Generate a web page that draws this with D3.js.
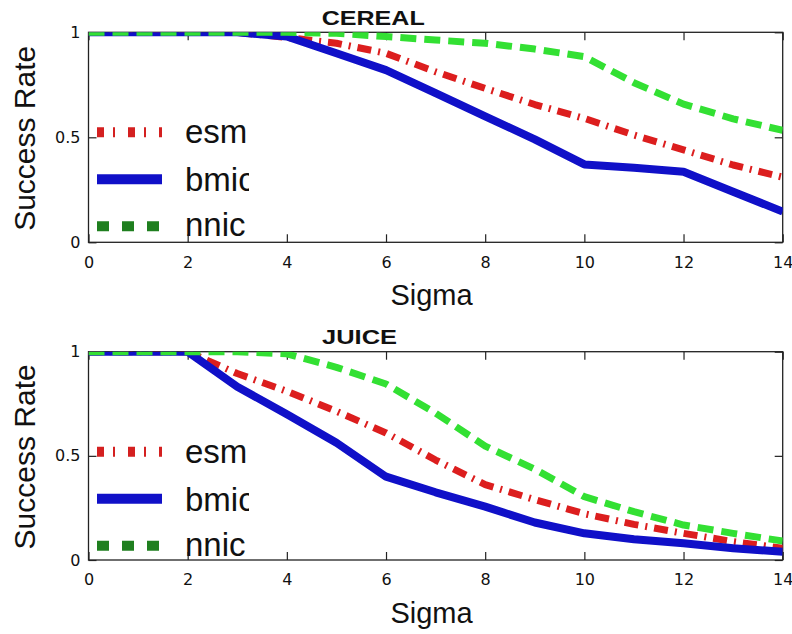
<!DOCTYPE html>
<html lang="en">
<head>
<meta charset="utf-8">
<title>Success rate vs sigma</title>
<script src="https://d3js.org/d3.v7.min.js"></script>
<style>
  body { margin: 0; background: #fff; }
  svg { display: block; }
  .tick line { stroke: #222; stroke-width: 1.2; }
  .lab { font-family: "Liberation Sans", Arial, sans-serif; fill: #111; }
</style>
</head>
<body>
<script>
// sigma values on the x axis
var sigma = [0, 1, 2, 3, 4, 5, 6, 7, 8, 9, 10, 11, 12, 13, 14];
var xTicks = [0, 2, 4, 6, 8, 10, 12, 14];
var yTicks = [0, 0.5, 1];
var seriesNames = ["esm", "bmic", "nnic"];

// CEREAL panel
var cerealEsm  = [1, 1, 1, 1, 0.975, 0.948, 0.90, 0.812, 0.733, 0.656, 0.59, 0.511, 0.44, 0.368, 0.31];
var cerealBmic = [1, 1, 1, 1, 0.98, 0.90, 0.82, 0.71, 0.60, 0.49, 0.371, 0.355, 0.336, 0.241, 0.146];
var cerealNnic = [1, 1, 1, 1, 1, 0.995, 0.98, 0.963, 0.948, 0.92, 0.884, 0.76, 0.658, 0.588, 0.533];

// JUICE panel
var juiceEsm  = [1, 1, 1, 0.895, 0.81, 0.714, 0.61, 0.48, 0.362, 0.29, 0.222, 0.171, 0.128, 0.088, 0.056];
var juiceBmic = [1, 1, 1, 0.832, 0.70, 0.563, 0.40, 0.325, 0.256, 0.18, 0.128, 0.10, 0.08, 0.056, 0.04];
var juiceNnic = [1, 1, 1, 1, 0.99, 0.925, 0.845, 0.705, 0.547, 0.436, 0.304, 0.232, 0.168, 0.128, 0.091];

var w = 792, h = 634;

var svg = d3.select("body").append("svg")
    .attr("width", w)
    .attr("height", h);

var styles = {
  esm:  { color: "#dc1e1e", legend: "#d42020", width: 7, dash: "14,7,2,7", legendDash: "7,9,2,13" },
  bmic: { color: "#1010c8", legend: "#1010c8", width: 8, dash: null, legendDash: null },
  nnic: { color: "#33e033", legend: "#1f7f1f", width: 7, dash: "16,8", legendDash: "12,13" }
};

function drawPanel(id, title, titleOpts, top, bottom, data) {
  var x = d3.scaleLinear().domain([0, 14]).range([88.5, 782.7]);
  var y = d3.scaleLinear().domain([0, 1]).range([bottom, top]);

  var g = svg.append("g");

  g.append("clipPath").attr("id", "clip" + id)
    .append("rect")
      .attr("x", x(0)).attr("y", y(1))
      .attr("width", x(14) - x(0)).attr("height", y(0) - y(1));

  // axes, ticks point inward
  var bottomAxis = d3.axisBottom(x).tickValues(xTicks).tickSize(-8).tickSizeOuter(0).tickPadding(14);
  var topAxis = d3.axisTop(x).tickValues(xTicks).tickSize(-8).tickSizeOuter(0).tickFormat("");
  var leftAxis = d3.axisLeft(y).tickValues(yTicks).tickSize(-8).tickSizeOuter(0).tickPadding(8)
      .tickFormat(function(d) { return d === 0.5 ? "0.5" : d3.format("d")(d); });
  var rightAxis = d3.axisRight(y).tickValues(yTicks).tickSize(-8).tickSizeOuter(0).tickFormat("");

  g.append("g").attr("transform", "translate(0," + bottom + ")").call(bottomAxis);
  g.append("g").attr("transform", "translate(0," + top + ")").call(topAxis);
  g.append("g").attr("transform", "translate(" + x(0) + ",0)").call(leftAxis);
  g.append("g").attr("transform", "translate(" + x(14) + ",0)").call(rightAxis);
  g.selectAll(".domain").remove();
  g.selectAll(".tick text")
    .attr("font-family", "DejaVu Sans, sans-serif")
    .attr("font-size", 16)
    .attr("fill", "#111");

  g.append("rect")
    .attr("x", x(0)).attr("y", y(1))
    .attr("width", x(14) - x(0)).attr("height", y(0) - y(1))
    .attr("fill", "none").attr("stroke", "#222").attr("stroke-width", 1.3);

  var line = d3.line()
    .x(function(d, i) { return x(sigma[i]); })
    .y(function(d) { return y(d); });

  var lines = g.append("g").attr("clip-path", "url(#clip" + id + ")");
  seriesNames.forEach(function(name, k) {
    var s = styles[name];
    lines.append("path")
      .datum(data[k])
      .attr("d", line)
      .attr("fill", "none")
      .attr("stroke", s.color)
      .attr("stroke-width", s.width)
      .attr("stroke-linejoin", "round")
      .attr("stroke-dasharray", s.dash);
  });

  // legend (no box); text is cut on the right like in the figure
  g.append("clipPath").attr("id", "lclip" + id)
    .append("rect").attr("x", 90).attr("y", top).attr("width", 159).attr("height", bottom - top);
  var lineY = [100, 147, 194];
  var textY = [111, 159, 204];
  var leg = g.append("g").attr("clip-path", "url(#lclip" + id + ")");
  seriesNames.forEach(function(name, k) {
    var s = styles[name];
    leg.append("line")
      .attr("x1", 97).attr("x2", 162)
      .attr("y1", top + lineY[k]).attr("y2", top + lineY[k])
      .attr("stroke", s.legend)
      .attr("stroke-width", 10)
      .attr("stroke-dasharray", s.legendDash);
    leg.append("text")
      .attr("class", "lab")
      .attr("x", 185).attr("y", top + textY[k])
      .attr("font-size", 33)
      .text(name);
  });

  // title
  svg.append("text")
    .attr("class", "lab")
    .attr("x", titleOpts.x).attr("y", titleOpts.y)
    .attr("font-size", titleOpts.size)
    .attr("font-weight", "bold")
    .attr("textLength", titleOpts.len)
    .attr("lengthAdjust", "spacingAndGlyphs")
    .text(title);

  // axis labels
  svg.append("text")
    .attr("class", "lab")
    .attr("x", 431.5).attr("y", bottom + 63)
    .attr("text-anchor", "middle")
    .attr("font-size", 29)
    .text("Sigma");

  svg.append("text")
    .attr("class", "lab")
    .attr("transform", "translate(35," + ((top + bottom) / 2 + 1) + ") rotate(-90)")
    .attr("text-anchor", "middle")
    .attr("font-size", 30)
    .text("Success Rate");
}

drawPanel("a", "CEREAL", { x: 321.7, y: 25, size: 21, len: 103 }, 32.3, 242.3,
          [cerealEsm, cerealBmic, cerealNnic]);
drawPanel("b", "JUICE", { x: 322, y: 344, size: 20, len: 75 }, 351.7, 560,
          [juiceEsm, juiceBmic, juiceNnic]);
</script>
</body>
</html>
